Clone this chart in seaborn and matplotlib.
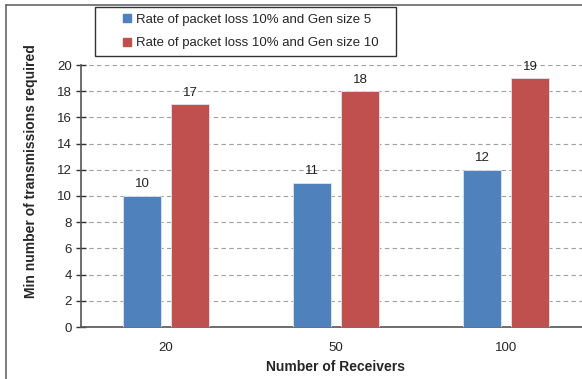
import matplotlib
matplotlib.use("Agg")
import matplotlib.pyplot as plt
from matplotlib.lines import Line2D
import seaborn as sns
import pandas as pd

# Chart data
receivers = ["20", "50", "100"]
gen_size_5 = [10, 11, 12]
gen_size_10 = [17, 18, 19]
series_names = [
    "Rate of packet loss 10% and Gen size 5",
    "Rate of packet loss 10% and Gen size 10",
]
colors = ["#4F81BD", "#C0504D"]

df = pd.DataFrame({
    "Receivers": receivers * 2,
    "Transmissions": gen_size_5 + gen_size_10,
    "Series": [series_names[0]] * 3 + [series_names[1]] * 3,
})

sns.set_style("white")
plt.rcParams["font.family"] = ["Liberation Sans", "DejaVu Sans"]

fig = plt.figure(figsize=(5.82, 3.79), dpi=100)
ax = fig.add_axes([81 / 582, 1 - 327 / 379, 510 / 582, (327 - 65) / 379])

sns.barplot(
    data=df, x="Receivers", y="Transmissions", hue="Series",
    palette=colors, saturation=1, width=0.565, gap=0.2, ax=ax, legend=False,
    edgecolor="#dfe6ee", linewidth=0.6, zorder=3,
)

for cont in ax.containers:
    ax.bar_label(cont, padding=4, fontsize=9.5, color="#222222")

ax.set_xlim(-0.5, 2.5)
ax.set_ylim(0, 20)
ax.set_yticks(range(0, 21, 2))
ax.yaxis.grid(True, linestyle=(0, (4, 3)), color="#a0a0a0", linewidth=0.8, zorder=0)
ax.xaxis.grid(False)

# Category labels centred, tick marks between categories
ax.set_xticks([0, 1, 2])
ax.set_xticks([0.5, 1.5, 2.5], minor=True)
ax.tick_params(axis="x", which="major", length=0, pad=11, labelsize=9.5)
ax.tick_params(axis="x", which="minor", direction="inout", length=7, width=1.0, color="#333333")
ax.tick_params(axis="y", direction="inout", length=7, width=1.0, color="#333333",
               labelsize=9.5, pad=3, left=True)

for side in ["top", "right"]:
    ax.spines[side].set_visible(False)
for side in ["left", "bottom"]:
    ax.spines[side].set_color("#555555")
    ax.spines[side].set_linewidth(1.2)

ax.set_xlabel("Number of Receivers", fontsize=10, fontweight="bold", labelpad=4)
ax.set_ylabel("Min number of transmissions required", fontsize=10, fontweight="bold")
ax.yaxis.set_label_coords((38 - 81) / 510, (327 - 171) / 262)

handles = [Line2D([], [], marker="s", linestyle="none", markersize=6,
                  markerfacecolor=c, markeredgecolor=c) for c in colors]
leg = fig.legend(handles, series_names, loc="upper left", mode="expand",
                 bbox_to_anchor=(95 / 582, 1 - 56 / 379, 301 / 582, 49 / 379),
                 fontsize=9.5, frameon=True, fancybox=False, edgecolor="black",
                 handlelength=3.9, handletextpad=-1.3, labelspacing=0.85,
                 borderpad=0.5, borderaxespad=0)
leg.get_frame().set_linewidth(1.0)

# Outer chart border (top and left edges)
fig.add_artist(Line2D([6 / 582, 1.0], [1 - 5 / 379, 1 - 5 / 379],
                      transform=fig.transFigure, color="#666666", linewidth=1.2))
fig.add_artist(Line2D([6 / 582, 6 / 582], [0, 1 - 5 / 379],
                      transform=fig.transFigure, color="#666666", linewidth=1.2))

fig.savefig("out.png", dpi=100)
